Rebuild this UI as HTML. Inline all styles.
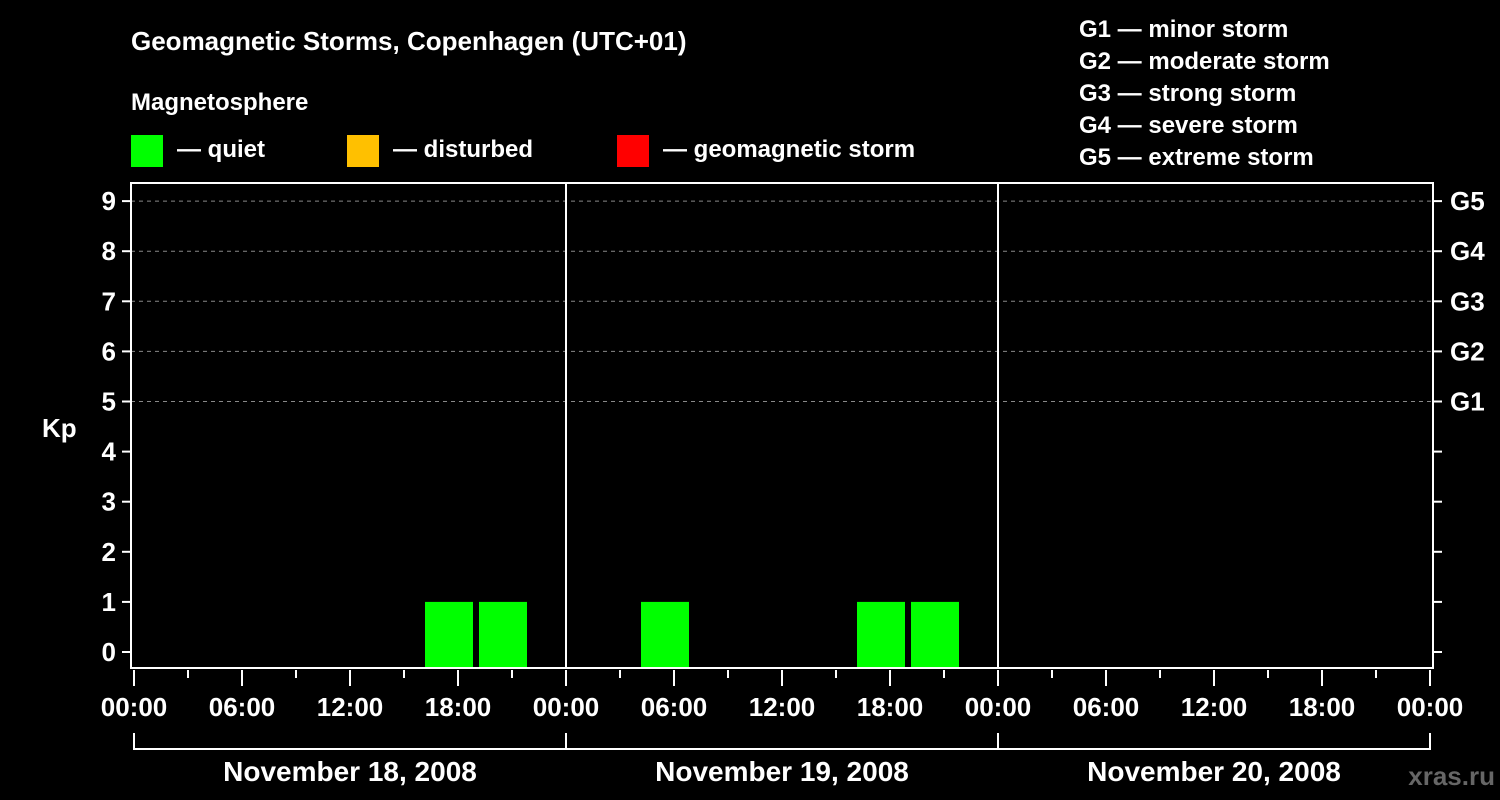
<!DOCTYPE html>
<html><head><meta charset="utf-8"><style>
body{margin:0;background:#000;}
svg{display:block;font-family:"Liberation Sans",Arial,sans-serif;font-weight:bold;}
</style></head><body>
<svg id="chart" width="1500" height="800" viewBox="0 0 1500 800">
<rect width="1500" height="800" fill="#000"/>
<text x="131" y="50" fill="#fff" font-size="26">Geomagnetic Storms, Copenhagen (UTC+01)</text>
<text x="131" y="110" fill="#fff" font-size="24">Magnetosphere</text>
<g><rect x="131" y="135" width="32" height="32" fill="#00ff00"/><text x="177" y="157" fill="#fff" font-size="24">— quiet</text></g>
<g><rect x="347" y="135" width="32" height="32" fill="#ffc000"/><text x="393" y="157" fill="#fff" font-size="24">— disturbed</text></g>
<g><rect x="617" y="135" width="32" height="32" fill="#ff0000"/><text x="663" y="157" fill="#fff" font-size="24">— geomagnetic storm</text></g>
<g fill="#fff" font-size="24">
<text x="1079" y="37">G1 — minor storm</text><text x="1079" y="69">G2 — moderate storm</text><text x="1079" y="101">G3 — strong storm</text><text x="1079" y="133">G4 — severe storm</text><text x="1079" y="165">G5 — extreme storm</text>
</g>
<text x="42" y="437" fill="#fff" font-size="26">Kp</text>
<text x="1495" y="785" fill="#666" font-size="26" text-anchor="end">xras.ru</text>
<g id="grid"></g><g id="bars"></g><g id="axes"></g>
</svg>
<script>
const dayLabels=["November 18, 2008","November 19, 2008","November 20, 2008"];
const barStartHours=[16,19,28,40,43];
const kpValues=[1,1,1,1,1];
const yTicks=[0,1,2,3,4,5,6,7,8,9];
const gLabels=["G1","G2","G3","G4","G5"];
const xTickLabels=["00:00","06:00","12:00","18:00"];
const NS="http://www.w3.org/2000/svg";
const L=134,PX_H=18,Y0=652,PY=50.1,TOP=183,BOT=668,FL=131,FR=1433;
const xs=h=>L+h*PX_H, ys=k=>Y0-k*PY;
function mk(t,a,p){const e=document.createElementNS(NS,t);for(const k in a)e.setAttribute(k,a[k]);p.appendChild(e);return e;}
const grid=document.getElementById('grid'),bars=document.getElementById('bars'),axes=document.getElementById('axes');
yTicks.filter(k=>k>=5).forEach(k=>{const l=mk('line',{x1:FL,x2:FR,y1:ys(k),y2:ys(k),stroke:'#888','stroke-dasharray':'4,4','stroke-width':1},grid);

});
barStartHours.forEach((h,i)=>{const k=kpValues[i];const c=k>=5?'#ff0000':(k>=4?'#ffc000':'#00ff00');
const r=mk('rect',{x:xs(h+1.5)-24,y:ys(k),width:48,height:BOT-ys(k),fill:c},bars);

});
const days=dayLabels.length;
for(let d=1;d<days;d++){const l=mk('line',{x1:xs(d*24),x2:xs(d*24),y1:TOP,y2:BOT,stroke:'#fff','stroke-width':2},axes);

}
const fr=mk('rect',{x:FL,y:TOP,width:FR-FL,height:BOT-TOP,fill:'none',stroke:'#fff','stroke-width':2},axes);


yTicks.forEach(k=>{mk('line',{x1:122,x2:FL,y1:ys(k),y2:ys(k),stroke:'#fff','stroke-width':2},axes);
mk('line',{x1:FR,x2:1442,y1:ys(k),y2:ys(k),stroke:'#fff','stroke-width':2},axes);
const t=mk('text',{x:116,y:ys(k)+9,fill:'#fff','font-size':26,'text-anchor':'end'},axes);t.textContent=k;

});
gLabels.forEach((g,i)=>{const t=mk('text',{x:1450,y:ys(5+i)+9,fill:'#fff','font-size':26},axes);t.textContent=g;

});
for(let h=0;h<=days*24;h+=3){const major=h%6===0;
mk('line',{x1:xs(h),x2:xs(h),y1:BOT+2,y2:BOT+(major?18:10),stroke:'#fff','stroke-width':2},axes);
if(major){const t=mk('text',{x:xs(h),y:716,fill:'#fff','font-size':26,'text-anchor':'middle'},axes);t.textContent=xTickLabels[(h/6)%4];

}}
mk('line',{x1:xs(0),x2:xs(days*24),y1:749,y2:749,stroke:'#fff','stroke-width':2},axes);
for(let d=0;d<=days;d++)mk('line',{x1:xs(d*24),x2:xs(d*24),y1:733,y2:750,stroke:'#fff','stroke-width':2},axes);
dayLabels.forEach((s,d)=>{const t=mk('text',{x:xs(d*24+12),y:781,fill:'#fff','font-size':28,'text-anchor':'middle'},axes);t.textContent=s;

});
</script>
</body></html>
